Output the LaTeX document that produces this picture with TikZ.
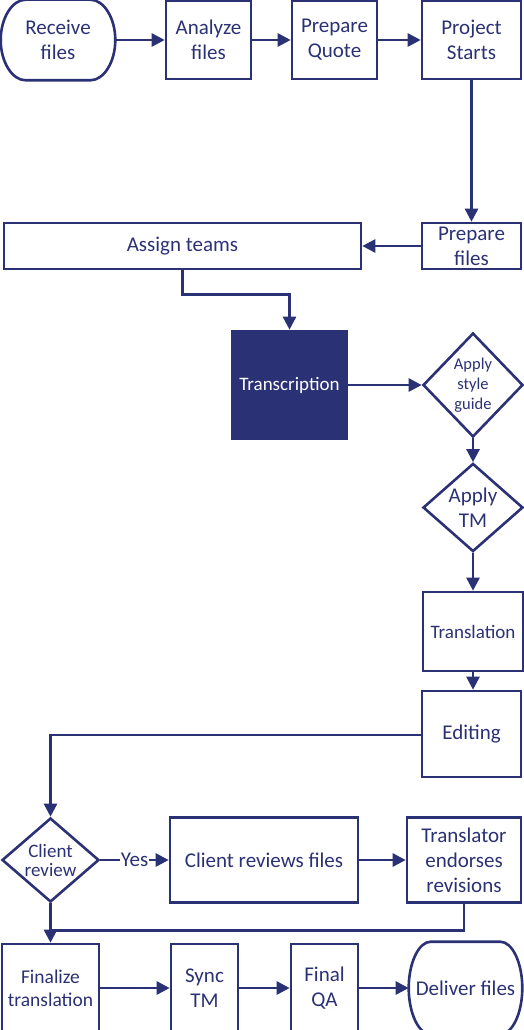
\documentclass[tikz,border=0pt]{standalone}
\usepackage{fontspec}
\setmainfont{Carlito}
\usetikzlibrary{arrows.meta,shapes.geometric,calc}
\definecolor{navy}{HTML}{2B3175}
\tikzset{
  box/.style={draw=navy, line width=2.6pt, text=navy, align=center, inner sep=0pt,
    font=\fontsize{21}{25}\selectfont},
  term/.style={box, draw=none},
  dia/.style={box, shape=diamond, aspect=1},
  smallf/.style={font=\fontsize{19}{22}\selectfont},
  conn/.style={draw=navy, line width=2.6pt, -{Triangle[length=13pt,width=13pt]}},
  plain/.style={draw=navy, line width=2.6pt},
}
% outline of a terminator node with elliptical ends: node, x radius, y radius
\newcommand\termoutline[3]{%
  \draw[plain] ($(#1.north east)+(-#2,0)$)
    .. controls ($(#1.north east)+({-0.4477*#2},0)$) and ($(#1.east)+(0,{-0.5523*#3})$) .. (#1.east)
    .. controls ($(#1.east)+(0,{0.5523*#3})$) and ($(#1.south east)+({-0.4477*#2},0)$) .. ($(#1.south east)+(-#2,0)$)
    -- ($(#1.south west)+(#2,0)$)
    .. controls ($(#1.south west)+({0.4477*#2},0)$) and ($(#1.west)+(0,{0.5523*#3})$) .. (#1.west)
    .. controls ($(#1.west)+(0,{-0.5523*#3})$) and ($(#1.north west)+({0.4477*#2},0)$) .. ($(#1.north west)+(#2,0)$)
    -- cycle;}
\begin{document}
\begin{tikzpicture}[x=1pt,y=-1pt]
\useasboundingbox (0,0) rectangle (524,1030);
% row 1
\node[term, minimum width=112pt, minimum height=78pt] (recv) at (58,40) {Receive\\files};
\node[box, minimum width=85pt, minimum height=78pt] (anal) at (208.5,40) {Analyze\\files};
\node[box, minimum width=85pt, minimum height=78pt] (quote) at (334.5,40) {Prepare\\Quote};
\node[box, minimum width=99pt, minimum height=78pt] (start) at (471.5,40) {Project\\Starts};
% row 2
\node[box, minimum width=99pt, minimum height=46pt] (prep) at (471.5,246) {Prepare\\files};
\node[box, minimum width=357pt, minimum height=46pt] (assign) at (182.5,246) {Assign teams};
% transcription
\node[box, fill=navy, text=white, smallf, minimum width=115pt, minimum height=108pt] (trans) at (289.5,385) {Transcription};
\node[dia, font=\fontsize{16.5}{20}\selectfont, minimum width=100pt, minimum height=104pt] (style) at (473,385) {Apply\\style\\guide};
\node[dia, minimum width=100pt, minimum height=83pt] (tm) at (473,507.5) {Apply\\TM};
\node[box, smallf, minimum width=100pt, minimum height=79pt] (transl) at (473,631.5) {Translation};
\node[box, minimum width=99pt, minimum height=86pt] (edit) at (471.5,734) {Editing};
% review row
\node[dia, font=\fontsize{19}{19}\selectfont, minimum width=97pt, minimum height=84pt] (client) at (50.5,860) {Client\\review};
\node[box, minimum width=188pt, minimum height=85pt] (crev) at (264,860) {Client reviews files};
\node[box, minimum width=114pt, minimum height=85pt] (endorse) at (464,860) {Translator\\endorses\\revisions};
% bottom row
\node[box, font=\fontsize{19.5}{23}\selectfont, minimum width=97pt, minimum height=88pt] (final) at (50.5,988) {Finalize\\translation};
\node[box, minimum width=67pt, minimum height=88pt] (sync) at (204.5,988) {Sync\\TM};
\node[box, minimum width=67pt, minimum height=88pt] (qa) at (324.5,988) {Final\\QA};
\node[term, minimum width=111pt, minimum height=90pt] (deliver) at (465.5,988) {Deliver files};
% terminator outlines
\termoutline{recv}{25}{39}
\termoutline{deliver}{22}{45}
\coordinate (join) at ($(final.north)+(0,-12)$);
% connectors
\draw[conn] (recv) -- (anal);
\draw[conn] (anal) -- (quote);
\draw[conn] (quote) -- (start);
\draw[conn] (start) -- (prep);
\draw[conn] (prep) -- (assign);
\draw[conn] (assign.south) -- ++(0,24) -| (trans.north);
\draw[conn] (trans.east) -- (style.west);
\draw[conn] (style.south) -- (tm.north);
\draw[conn] (tm.south) -- (transl.north);
\draw[conn] (transl.south) -- (transl.south |- edit.north);
\draw[conn] ([yshift=-1pt]edit.west) -| (client.north);
\draw[conn] (client.east) -- node[fill=white, text=navy, inner sep=1pt, font=\fontsize{21}{25}\selectfont]{Yes} (crev.west);
\draw[conn] (crev) -- (endorse);
\draw[plain] (endorse.south) |- (join);
\draw[conn] (client.south) -- (final.north);
\draw[conn] (final) -- (sync);
\draw[conn] (sync) -- (qa);
\draw[conn] (qa) -- (deliver);
\end{tikzpicture}
\end{document}
